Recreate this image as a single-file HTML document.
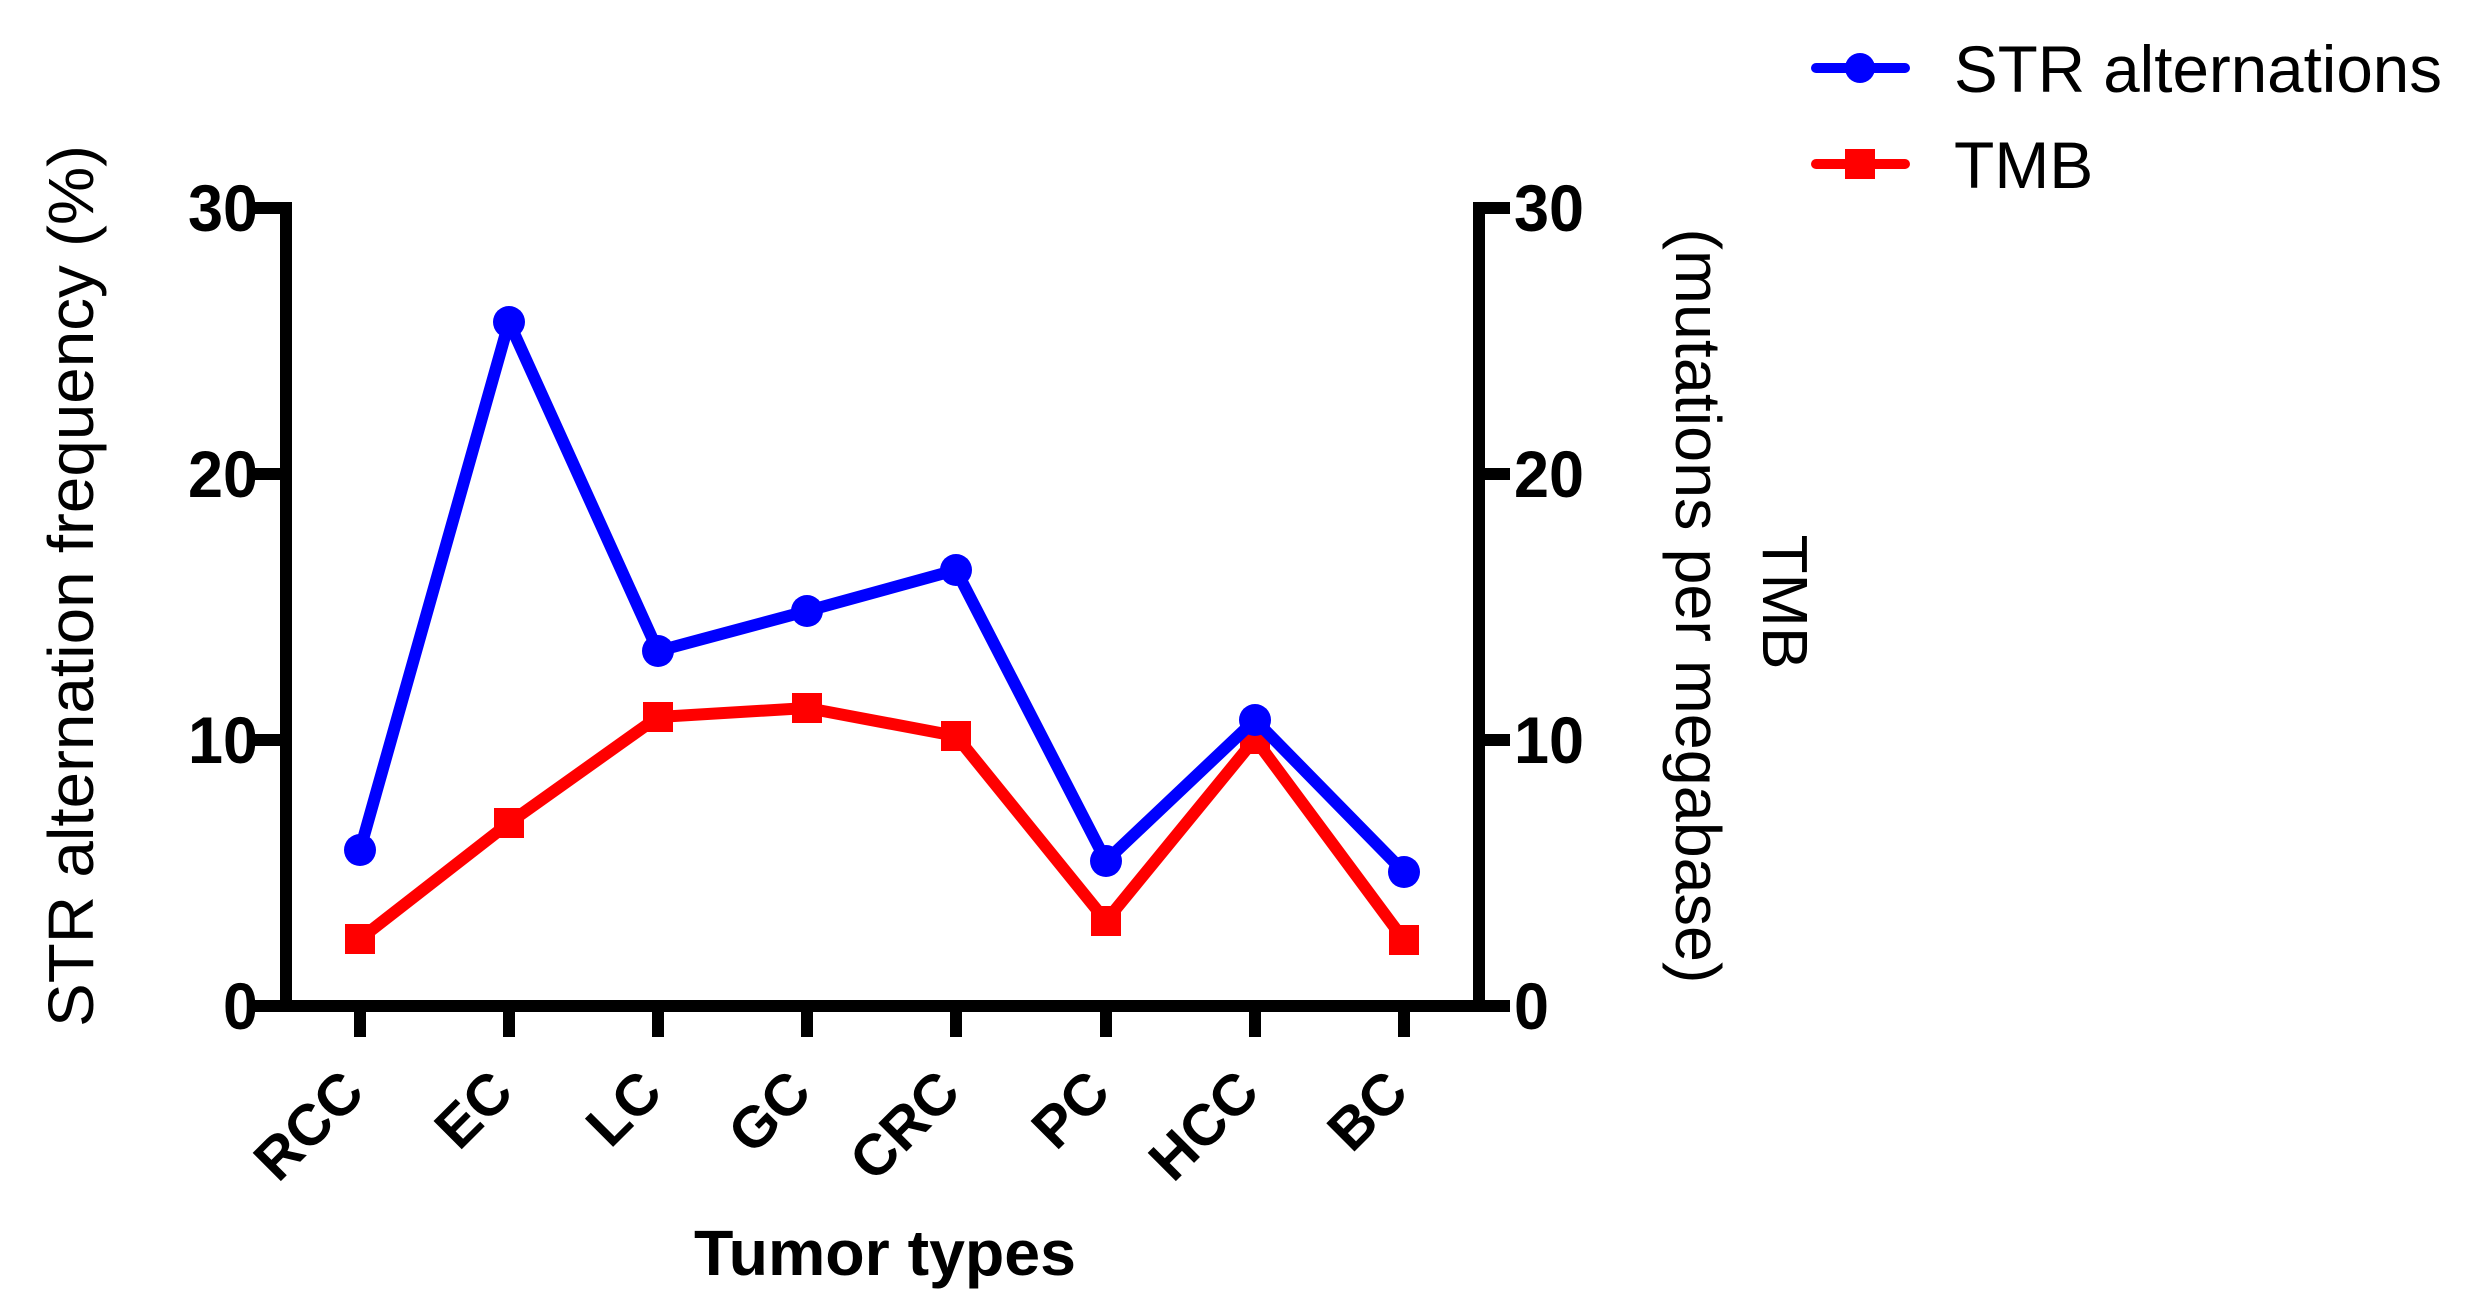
<!DOCTYPE html>
<html><head><meta charset="utf-8"><style>html,body{margin:0;padding:0;background:#fff}svg{display:block}</style></head>
<body>
<svg width="2470" height="1304" viewBox="0 0 2470 1304" xmlns="http://www.w3.org/2000/svg" font-family="Liberation Sans, Arial, sans-serif">
<rect width="2470" height="1304" fill="#fff"/>
<g stroke="#000" stroke-width="12" fill="none">
<polyline points="255,208 286,208 286,1006 1479,1006 1479,208 1510,208"/>
<line x1="255" y1="740" x2="286" y2="740"/><line x1="255" y1="474" x2="286" y2="474"/>
<line x1="1479" y1="740" x2="1510" y2="740"/><line x1="1479" y1="474" x2="1510" y2="474"/>
<line x1="1479" y1="1006" x2="1510" y2="1006"/><line x1="255" y1="1006" x2="286" y2="1006"/>
<line x1="360" y1="1006" x2="360" y2="1037"/><line x1="509" y1="1006" x2="509" y2="1037"/>
<line x1="658" y1="1006" x2="658" y2="1037"/><line x1="807" y1="1006" x2="807" y2="1037"/>
<line x1="956" y1="1006" x2="956" y2="1037"/><line x1="1106" y1="1006" x2="1106" y2="1037"/>
<line x1="1255" y1="1006" x2="1255" y2="1037"/><line x1="1404" y1="1006" x2="1404" y2="1037"/>
</g>
<g font-weight="bold" font-size="66" fill="#000">
<g text-anchor="end">
<text x="258" y="231" textLength="70" lengthAdjust="spacingAndGlyphs">30</text>
<text x="258" y="497" textLength="70" lengthAdjust="spacingAndGlyphs">20</text>
<text x="258" y="763" textLength="70" lengthAdjust="spacingAndGlyphs">10</text>
<text x="258" y="1029" textLength="35" lengthAdjust="spacingAndGlyphs">0</text>
</g>
<text x="1514" y="231" textLength="70" lengthAdjust="spacingAndGlyphs">30</text>
<text x="1514" y="497" textLength="70" lengthAdjust="spacingAndGlyphs">20</text>
<text x="1514" y="763" textLength="70" lengthAdjust="spacingAndGlyphs">10</text>
<text x="1514" y="1029" textLength="35" lengthAdjust="spacingAndGlyphs">0</text>
<g text-anchor="end" font-size="58">
<text transform="translate(367,1095) rotate(-45)">RCC</text>
<text transform="translate(516,1095) rotate(-45)">EC</text>
<text transform="translate(665,1095) rotate(-45)">LC</text>
<text transform="translate(814,1095) rotate(-45)">GC</text>
<text transform="translate(963,1095) rotate(-45)">CRC</text>
<text transform="translate(1113,1095) rotate(-45)">PC</text>
<text transform="translate(1262,1095) rotate(-45)">HCC</text>
<text transform="translate(1411,1095) rotate(-45)">BC</text>
</g>
<text x="885" y="1275" text-anchor="middle" font-size="64" textLength="382" lengthAdjust="spacingAndGlyphs">Tumor types</text>
</g>
<text transform="translate(93,586) rotate(-90)" text-anchor="middle" font-size="64" textLength="882" lengthAdjust="spacingAndGlyphs">STR alternation frequency (%)</text>
<text transform="translate(1763,602) rotate(90)" text-anchor="middle" font-size="64">TMB</text>
<text transform="translate(1676,606) rotate(90)" text-anchor="middle" font-size="64" textLength="755" lengthAdjust="spacingAndGlyphs">(mutations per megabase)</text>
<polyline fill="none" stroke="#ff0000" stroke-width="12" stroke-linejoin="round" points="360,939 509,823 658,717 807,708 956,736 1106,921 1255,739 1404,940"/>
<g fill="#ff0000">
<rect x="345" y="924" width="30" height="30"/><rect x="494" y="808" width="30" height="30"/>
<rect x="643" y="702" width="30" height="30"/><rect x="792" y="693" width="30" height="30"/>
<rect x="941" y="721" width="30" height="30"/><rect x="1091" y="906" width="30" height="30"/>
<rect x="1240" y="724" width="30" height="30"/><rect x="1389" y="925" width="30" height="30"/>
</g>
<polyline fill="none" stroke="#0000ff" stroke-width="12" stroke-linejoin="round" points="360,850 509,322 658,651 807,611 956,570 1106,861 1255,720 1404,872"/>
<g fill="#0000ff">
<circle cx="360" cy="850" r="16"/><circle cx="509" cy="322" r="16"/><circle cx="658" cy="651" r="16"/>
<circle cx="807" cy="611" r="16"/><circle cx="956" cy="570" r="16"/><circle cx="1106" cy="861" r="16"/>
<circle cx="1255" cy="720" r="16"/><circle cx="1404" cy="872" r="16"/>
</g>
<line x1="1816" y1="68" x2="1905" y2="68" stroke="#0000ff" stroke-width="10" stroke-linecap="round"/>
<circle cx="1860" cy="68" r="15" fill="#0000ff"/>
<line x1="1816" y1="164" x2="1905" y2="164" stroke="#ff0000" stroke-width="10" stroke-linecap="round"/>
<rect x="1845" y="149" width="30" height="30" fill="#ff0000"/>
<text x="1954" y="92" font-size="66" textLength="488" lengthAdjust="spacingAndGlyphs">STR alternations</text>
<text x="1954" y="188" font-size="66">TMB</text>
</svg>
</body></html>
